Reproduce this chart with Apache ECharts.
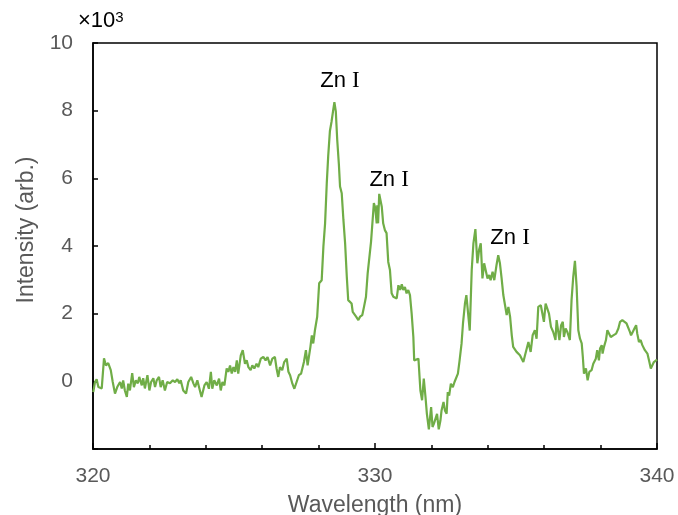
<!DOCTYPE html>
<html>
<head>
<meta charset="utf-8">
<script src="https://cdn.jsdelivr.net/npm/echarts@6/dist/echarts.min.js"></script>
<style>
  html, body { margin: 0; padding: 0; background: #fff; }
  #chart { width: 678px; height: 515px; }
</style>
</head>
<body>
<div id="chart"></div>
<script>
// Emission spectrum, wavelength in nm
const wavelength = [
  320.01,320.07,320.13,320.19,320.31,320.39,320.46,320.54,320.63,320.70,
  320.78,320.86,320.96,321.02,321.07,321.13,321.20,321.25,321.31,321.39,
  321.45,321.52,321.59,321.64,321.73,321.78,321.84,321.93,322.00,322.06,
  322.14,322.20,322.26,322.34,322.40,322.47,322.55,322.63,322.73,322.83,
  322.91,322.99,323.06,323.11,323.20,323.30,323.38,323.48,323.56,323.62,
  323.70,323.79,323.85,323.95,324.03,324.11,324.18,324.23,324.30,324.39,
  324.47,324.53,324.59,324.66,324.74,324.80,324.86,324.92,324.98,325.04,
  325.10,325.15,325.24,325.31,325.39,325.45,325.51,325.59,325.65,325.72,
  325.80,325.86,325.95,326.04,326.12,326.19,326.28,326.36,326.45,326.51,
  326.57,326.63,326.71,326.78,326.87,326.93,326.99,327.07,327.14,327.22,
  327.30,327.38,327.48,327.55,327.61,327.71,327.76,327.81,327.87,327.95,
  328.02,328.11,328.17,328.23,328.29,328.34,328.40,328.46,328.52,328.56,
  328.61,328.66,328.72,328.76,328.82,328.88,328.94,329.00,329.05,329.11,
  329.17,329.21,329.27,329.33,329.41,329.47,329.55,329.61,329.68,329.74,
  329.80,329.86,329.92,329.96,330.01,330.06,330.08,330.11,330.15,330.24,
  330.29,330.35,330.41,330.47,330.53,330.59,330.65,330.77,330.83,330.89,
  330.95,331.00,331.06,331.12,331.18,331.24,331.30,331.36,331.39,331.45,
  331.54,331.61,331.67,331.73,331.79,331.84,331.91,331.99,332.04,332.09,
  332.15,332.20,332.26,332.32,332.36,332.43,332.48,332.54,332.58,332.63,
  332.69,332.76,332.82,332.89,332.94,333.00,333.07,333.12,333.19,333.24,
  333.30,333.36,333.43,333.49,333.56,333.63,333.69,333.75,333.81,333.87,
  333.94,333.99,334.05,334.10,334.17,334.23,334.31,334.37,334.43,334.49,
  334.55,334.61,334.67,334.73,334.79,334.85,334.90,334.96,335.02,335.08,
  335.14,335.26,335.32,335.44,335.52,335.59,335.67,335.73,335.79,335.88,
  335.95,335.99,336.05,336.11,336.17,336.24,336.32,336.40,336.44,336.50,
  336.54,336.60,336.66,336.70,336.76,336.82,336.87,336.91,336.97,337.03,
  337.09,337.15,337.21,337.27,337.33,337.37,337.41,337.48,337.54,337.60,
  337.68,337.74,337.83,337.88,337.94,337.98,338.04,338.07,338.12,338.19,
  338.24,338.30,338.36,338.45,338.55,338.63,338.69,338.77,338.84,338.92,
  338.98,339.04,339.08,339.14,339.20,339.26,339.30,339.36,339.42,339.48,
  339.57,339.66,339.73,339.78,339.85,339.89,339.96,340.00
];

// Intensity in units of 10^3 (arb.)
const intensity = [
  -0.32,-0.02,0.06,-0.17,-0.21,0.68,0.47,0.54,0.33,-0.02,
  -0.36,-0.17,-0.02,-0.21,0.03,-0.27,-0.46,-0.07,-0.27,0.24,
  -0.17,0.03,-0.06,0.13,-0.12,0.09,-0.21,0.18,-0.27,-0.02,
  0.09,-0.17,0.03,0.13,-0.17,0.03,-0.27,-0.02,-0.06,0.03,
  -0.02,0.06,-0.06,0.03,-0.27,-0.36,-0.02,0.13,-0.06,-0.17,
  0.03,-0.27,-0.46,-0.12,-0.02,-0.22,0.28,-0.22,0.03,-0.12,
  0.08,-0.27,-0.02,-0.12,0.38,0.28,0.47,0.23,0.42,0.28,
  0.62,0.23,0.77,0.92,0.52,0.62,0.42,0.33,0.47,0.38,
  0.52,0.42,0.67,0.72,0.62,0.72,0.47,0.67,0.72,0.38,
  0.13,0.42,0.33,0.57,0.67,0.28,0.18,-0.07,-0.22,-0.02,
  0.18,0.23,0.57,0.92,0.47,1.02,1.36,1.12,1.51,1.91,
  2.90,2.99,3.98,4.67,5.86,6.65,7.39,7.68,8.03,8.25,
  7.98,7.14,6.40,5.76,5.56,4.77,4.08,3.09,2.40,2.35,
  2.30,2.05,2.05,1.91,1.81,1.91,1.96,2.20,2.50,3.19,
  3.24,4.13,4.18,5.27,5.12,4.67,5.20,4.67,5.54,5.16,
  4.67,4.47,4.38,3.53,3.29,2.60,2.50,2.45,2.84,2.70,
  2.87,2.70,2.79,2.60,2.70,2.55,2.00,1.31,0.62,0.62,
  0.67,-0.27,-0.56,0.08,-0.46,-0.96,-1.42,-0.76,-1.35,-1.25,
  -1.30,-0.96,-1.42,-1.16,-0.86,-0.61,-0.86,-0.96,-0.32,-0.42,
  -0.07,-0.17,-0.02,0.03,0.23,0.62,1.12,1.71,2.30,2.55,
  2.50,1.50,3.29,4.08,4.50,3.49,3.88,4.08,3.04,3.49,
  3.49,3.04,3.14,2.99,3.24,2.99,3.44,3.73,3.49,3.04,
  2.55,2.60,1.96,2.20,1.91,1.36,1.02,1.02,0.87,0.87,
  0.77,0.57,0.77,1.16,0.87,1.36,1.51,1.26,2.20,2.25,
  2.25,1.76,2.30,2.35,2.00,1.61,1.46,1.22,1.81,1.86,
  1.22,1.66,1.76,1.31,1.56,1.46,1.50,1.22,2.40,3.09,
  3.56,2.79,1.51,1.26,1.12,0.72,0.23,0.38,0.03,0.28,
  0.33,0.52,0.67,0.92,0.62,0.97,1.07,0.82,1.02,1.22,
  1.51,1.46,1.31,1.36,1.41,1.56,1.76,1.81,1.79,1.71,
  1.76,1.46,1.36,1.46,1.56,1.66,1.41,1.16,1.22,1.07,
  0.92,0.82,0.57,0.38,0.43,0.57,0.52,0.64
];

// Line identifications: [wavelength, intensity, text]
const peakLabels = [
  [328.76, 8.89, 'Zn I'],
  [330.50, 5.96, 'Zn I'],
  [334.79, 4.24, 'Zn I']
];

const xTicks = [320, 330, 340];
const yTicks = [0, 2, 4, 6, 8, 10];

const spectrum = wavelength.map((w, i) => [w, intensity[i]]);

const sans = '"Liberation Sans", Arial, sans-serif';
const serif = '"Liberation Serif", "Times New Roman", serif';
const axisColor = '#000';
const labelColor = '#595959';

const chart = echarts.init(document.getElementById('chart'), null, { renderer: 'canvas' });

chart.setOption({
  animation: false,
  backgroundColor: '#fff',
  grid: {
    left: 93, right: 21, top: 43, bottom: 66,
    outerBoundsMode: 'none',
    containLabel: false,
    show: true, borderColor: axisColor, borderWidth: 1.5, backgroundColor: 'transparent'
  },
  xAxis: {
    type: 'value',
    min: 320, max: 340, interval: 10,
    name: 'Wavelength (nm)',
    nameLocation: 'middle',
    nameGap: 45,
    nameTextStyle: { color: labelColor, fontFamily: sans, fontSize: 23 },
    axisLine: { show: true, onZero: false, lineStyle: { color: axisColor, width: 1.5 } },
    axisTick: { show: true, inside: true, length: 6, lineStyle: { color: axisColor, width: 1.5 } },
    minorTick: { show: true, splitNumber: 5, length: 4, lineStyle: { color: axisColor, width: 1.5 } },
    splitLine: { show: false },
    axisLabel: {
      color: labelColor, fontFamily: sans, fontSize: 21, margin: 17,
      formatter: v => (xTicks.includes(v) ? String(v) : '')
    }
  },
  yAxis: {
    type: 'value',
    min: -2, max: 10, interval: 2,
    axisLine: { show: true, onZero: false, lineStyle: { color: axisColor, width: 1.5 } },
    axisTick: { show: true, inside: true, length: 5, lineStyle: { color: axisColor, width: 1.5 } },
    splitLine: { show: false },
    axisLabel: {
      color: labelColor, fontFamily: sans, fontSize: 21, margin: 20,
      formatter: v => (yTicks.includes(v) ? String(v) : '')
    }
  },
  graphic: [{
    type: 'text',
    left: 78, top: 10,
    style: {
      text: '×10{sup|3}',
      rich: { sup: { fontSize: 15, verticalAlign: 'top', fontFamily: sans, fill: '#000' } },
      font: '22px ' + sans,
      fill: '#000'
    }
  }, {
    type: 'text',
    x: 27, y: 230,
    rotation: Math.PI / 2,
    style: {
      text: 'Intensity (arb.)',
      font: '23px ' + sans,
      fill: labelColor,
      align: 'center',
      verticalAlign: 'middle'
    }
  }],
  series: [{
    type: 'line',
    data: spectrum,
    showSymbol: false,
    symbol: 'none',
    lineStyle: { color: '#70AD47', width: 2.2 },
    z: 3,
    markPoint: {
      symbol: 'circle',
      symbolSize: 0,
      silent: true,
      label: {
        show: true,
        position: 'inside',
        formatter: p => '{a|Zn }{b|I}',
        rich: {
          a: { fontFamily: sans, fontSize: 22, color: '#000' },
          b: { fontFamily: serif, fontSize: 23, color: '#000' }
        }
      },
      data: peakLabels.map(p => ({ coord: [p[0], p[1]], value: p[2] }))
    }
  }]
});
</script>
</body>
</html>
